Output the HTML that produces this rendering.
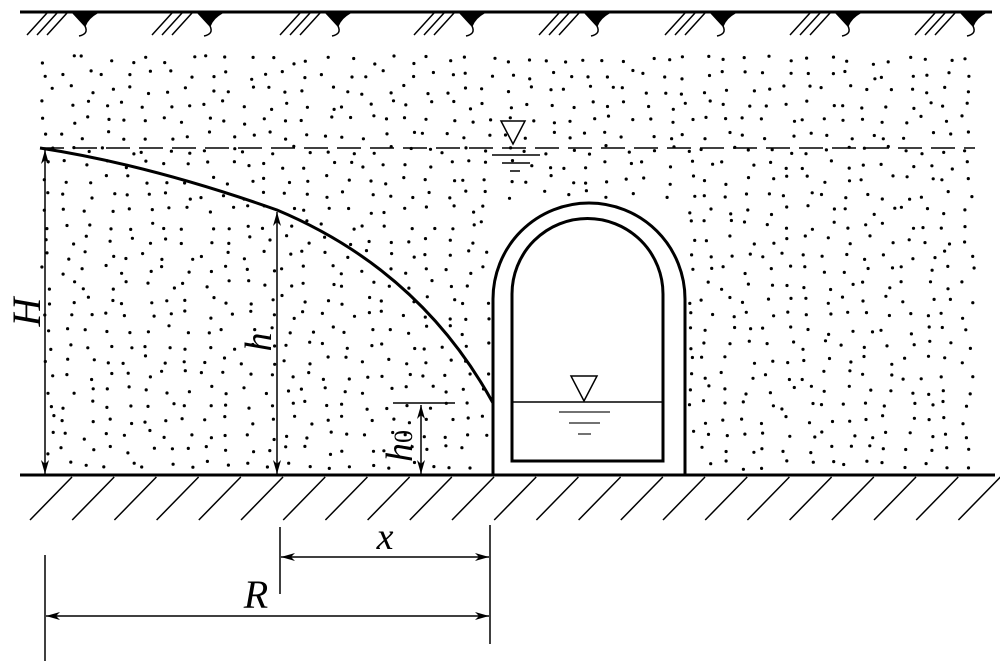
<!DOCTYPE html>
<html><head><meta charset="utf-8"><style>
html,body{margin:0;padding:0;background:#fff;width:1000px;height:666px;overflow:hidden}
svg{display:block}
text{font-family:"Liberation Serif",serif;font-style:italic;fill:#000}
</style></head><body>
<svg id="s" width="1000" height="666" viewBox="0 0 1000 666" xmlns="http://www.w3.org/2000/svg">
<defs>
<marker id="a" viewBox="0 0 14 8" refX="14" refY="4" markerWidth="14" markerHeight="8" markerUnits="userSpaceOnUse" orient="auto-start-reverse"><path d="M0,0 L14,4 L0,8 L4,4 Z" fill="#000"/></marker>
</defs>
<g id="dots" fill="#000"></g>
<line x1="20" y1="12" x2="992" y2="12" stroke="#000" stroke-width="3"/>
<g id="surf" stroke="#000" stroke-width="1.5" fill="#000"></g>
<line x1="40" y1="148" x2="975" y2="148" stroke="#000" stroke-width="1.5" stroke-dasharray="24,9"/>
<path d="M501,121 L525,121 L513,144 Z" fill="#fff" stroke="#000" stroke-width="1.5"/>
<line x1="492" y1="155" x2="540" y2="155" stroke="#000" stroke-width="1.5"/>
<line x1="502" y1="163" x2="530" y2="163" stroke="#000" stroke-width="1.5"/>
<line x1="510" y1="171" x2="520" y2="171" stroke="#000" stroke-width="1.5"/>
<path d="M40,148 Q150,165 277,210 Q420,270 493,403" fill="none" stroke="#000" stroke-width="3"/>
<path d="M493,475 L493,299 A96,96 0 0 1 685,299 L685,475" fill="#fff" stroke="#000" stroke-width="3"/>
<path d="M512,461 L512,294 A75.5,75.5 0 0 1 663,294 L663,461 Z" fill="#fff" stroke="#000" stroke-width="3"/>
<line x1="512" y1="402" x2="663" y2="402" stroke="#000" stroke-width="1.5"/>
<path d="M571,376 L597,376 L584,401 Z" fill="#fff" stroke="#000" stroke-width="1.5"/>
<line x1="559" y1="412" x2="610" y2="412" stroke="#444" stroke-width="1.5"/>
<line x1="569" y1="423" x2="600" y2="423" stroke="#444" stroke-width="1.5"/>
<line x1="578" y1="434" x2="591" y2="434" stroke="#444" stroke-width="1.5"/>
<line x1="20" y1="475" x2="995" y2="475" stroke="#000" stroke-width="3"/>
<g id="hatch" stroke="#000" stroke-width="1.5"></g>
<line x1="45" y1="150" x2="45" y2="474" stroke="#000" stroke-width="1.5" marker-start="url(#a)" marker-end="url(#a)"/>
<text transform="translate(40,312) rotate(-90)" font-size="40" text-anchor="middle">H</text>
<line x1="277" y1="212" x2="277" y2="474" stroke="#000" stroke-width="1.5" marker-start="url(#a)" marker-end="url(#a)"/>
<text transform="translate(271,342) rotate(-90)" font-size="38" text-anchor="middle">h</text>
<line x1="393" y1="403" x2="455" y2="403" stroke="#000" stroke-width="1.5"/>
<line x1="421" y1="405" x2="421" y2="474" stroke="#000" stroke-width="1.5" marker-start="url(#a)" marker-end="url(#a)"/>
<text transform="translate(412,462) rotate(-90)" font-size="38">h<tspan font-size="26" font-style="normal">0</tspan></text>
<line x1="280" y1="527" x2="280" y2="594" stroke="#000" stroke-width="1.5"/>
<line x1="490" y1="525" x2="490" y2="644" stroke="#000" stroke-width="1.5"/>
<line x1="281" y1="557" x2="489" y2="557" stroke="#000" stroke-width="1.5" marker-start="url(#a)" marker-end="url(#a)"/>
<text x="385" y="549" font-size="38" text-anchor="middle">x</text>
<line x1="45" y1="555" x2="45" y2="661" stroke="#000" stroke-width="1.5"/>
<line x1="46" y1="616" x2="489" y2="616" stroke="#000" stroke-width="1.5" marker-start="url(#a)" marker-end="url(#a)"/>
<text x="256" y="608" font-size="40" text-anchor="middle">R</text>
</svg>
<script>
(function(){
var NS="http://www.w3.org/2000/svg";
function el(p,n,a){var e=document.createElementNS(NS,n);for(var k in a)e.setAttribute(k,a[k]);p.appendChild(e);return e;}
var seed=12345;function r(){seed=(seed*16807)%2147483647;return seed/2147483647;}
var g=document.getElementById("dots");
for(var y=60;y<472;y+=15){for(var x=48;x<978;x+=20){
 var px=x+(r()-0.5)*14, py=y+(r()-0.5)*9;
 if(px>489&&px<689&&py>199)continue;
 if(py>471||px>978)continue;
 el(g,"circle",{cx:px.toFixed(1),cy:py.toFixed(1),r:"1.6"});
}}
var s=document.getElementById("surf");
var tri=[85,210,338,472,597,723,848,973];
for(var i=0;i<tri.length;i++){
 var t=tri[i];
 for(var j=0;j<3;j++){var x0=t-58+j*10;el(s,"line",{x1:x0,y1:35,x2:x0+20,y2:13});}
 el(s,"path",{d:"M"+(t-12)+",13 L"+(t+12)+",13 Q"+(t+3)+",18 "+t+",26 Z"});
 el(s,"path",{d:"M"+t+",26 Q"+(t+4)+",34 "+(t-6)+",36",fill:"none"});
}
var h=document.getElementById("hatch");
for(var x=30;x<1000;x+=42.2){el(h,"line",{x1:x.toFixed(1),y1:520,x2:(x+42).toFixed(1),y2:477});}
})();
</script>
</body></html>
